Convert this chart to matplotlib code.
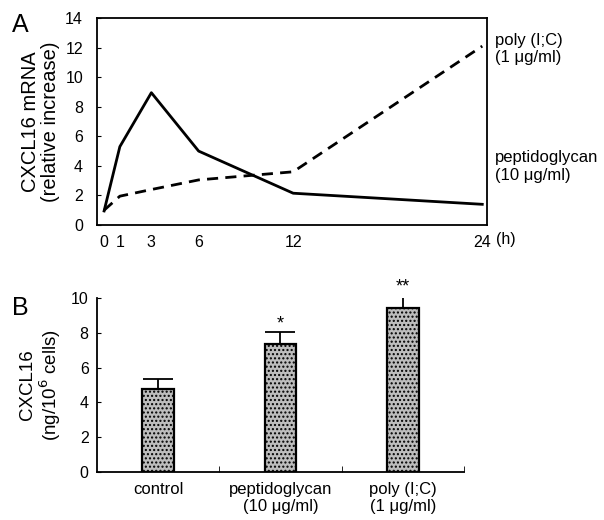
import numpy as np
import matplotlib
matplotlib.use("Agg")
import matplotlib.pyplot as plt

plt.rcParams['font.family'] = ['Liberation Sans', 'DejaVu Sans']

# Panel A: time course of CXCL16 mRNA
hours = [0, 1, 3, 6, 12, 24]
peptidoglycan_mrna = [0.95, 5.3, 8.95, 5.0, 2.15, 1.4]
polyic_mrna = [1.0, 1.95, 2.4, 3.05, 3.6, 12.1]
hour_labels = ["0", "1", "3", "6", "12", "24"]

# Panel B: CXCL16 protein
groups = ["control", "peptidoglycan\n(10 \u03bcg/ml)", "poly (I;C)\n(1 \u03bcg/ml)"]
protein = [4.75, 7.35, 9.4]
protein_err = [0.6, 0.7, 0.8]
stars = ["", "*", "**"]

fig = plt.figure(figsize=(6.04, 5.2), dpi=100)

# ---- panel A ----
ax1 = fig.add_axes([0.1606, 0.5673, 0.6457, 0.398])
ax1.plot(hours, peptidoglycan_mrna, color='black', lw=2.0)
ax1.plot(hours, polyic_mrna, color='black', lw=2.0, linestyle=(0, (4, 2.6)))
ax1.set_xlim(-0.45, 24.3)
ax1.set_ylim(0, 14)
ax1.set_yticks(range(0, 15, 2))
ax1.set_xticks(hours)
ax1.set_xticklabels(hour_labels)
ax1.tick_params(axis='y', direction='in', length=3, labelsize=11.5, pad=10)
ax1.tick_params(axis='x', length=0, labelsize=11.5, pad=7)
for s in ax1.spines.values():
    s.set_linewidth(1.3)
ax1.set_ylabel("CXCL16 mRNA\n(relative increase)", fontsize=14.5, linespacing=1.05, labelpad=4)
ax1.text(24.85, -0.45, "(h)", fontsize=11.5, ha='left', va='top', clip_on=False)
ax1.text(1.02, 0.93, "poly (I;C)\n(1 \u03bcg/ml)", transform=ax1.transAxes,
         fontsize=12, ha='left', va='top', linespacing=1.2)
ax1.text(1.02, 0.36, "peptidoglycan\n(10 \u03bcg/ml)", transform=ax1.transAxes,
         fontsize=12, ha='left', va='top', linespacing=1.2)
fig.text(0.02, 0.975, "A", fontsize=18, ha='left', va='top')

# ---- panel B ----
ax2 = fig.add_axes([0.1606, 0.0923, 0.6076, 0.3346])
x = np.arange(len(groups))
ax2.bar(x, protein, width=0.26, color='#bdbdbd', edgecolor='black', lw=1.6,
        hatch='....', zorder=2)
ax2.errorbar(x, protein, yerr=[np.zeros(len(x)), protein_err], fmt='none',
             ecolor='black', elinewidth=1.3, capsize=11, capthick=1.3, zorder=1)
for xi, v, e, st in zip(x, protein, protein_err, stars):
    if st:
        ax2.text(xi, v + e - 0.05, st, ha='center', va='bottom', fontsize=13)
ax2.set_xlim(-0.5, 2.5)
ax2.set_ylim(0, 10)
ax2.set_yticks(range(0, 11, 2))
ax2.set_xticks(x)
ax2.set_xticklabels(groups, fontsize=12, linespacing=1.15)
ax2.set_xticks([0.5, 1.5, 2.5], minor=True)
ax2.tick_params(axis='x', which='major', length=0, pad=7)
ax2.tick_params(axis='x', which='minor', direction='in', length=4)
ax2.tick_params(axis='y', direction='in', length=3, labelsize=11.5, pad=6)
ax2.spines['top'].set_visible(False)
ax2.spines['right'].set_visible(False)
for s in ['left', 'bottom']:
    ax2.spines[s].set_linewidth(1.3)
ax2.set_ylabel("CXCL16\n(ng/10$^6$ cells)", fontsize=13.5, linespacing=1.05, labelpad=6)
fig.text(0.02, 0.43, "B", fontsize=18, ha='left', va='top')

fig.savefig("out.png", dpi=100)
